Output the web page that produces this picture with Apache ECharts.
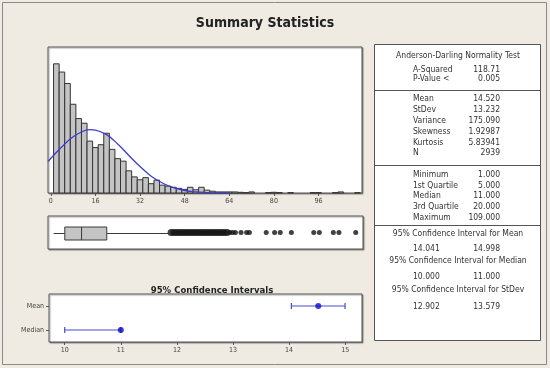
<!DOCTYPE html>
<html>
<head>
<meta charset="utf-8">
<script src="https://cdn.jsdelivr.net/npm/echarts@6/dist/echarts.min.js"></script>
<style>
html,body{margin:0;padding:0;background:#ffffff;}
#c{width:550px;height:368px;}
</style>
</head>
<body>
<div id="c"></div>
<script>
// ---- data ----
const binMids = [2,4,6,8,10,12,14,16,18,20,22,24,26,28,30,32,34,36,38,40,42,44,46,48,50,52,54,56,58,60,62,64,66,68,70,72,78,80,82,86,94,96,102,104,110];
const binCounts = [361,338,306,248,208,195,145,127,135,167,122,96,89,62,45,37,43,26,36,22,19,16,13,10,16,9,16,8,5,3,3,3,3,2,1,3,1,2,1,1,1,1,1,3,1];
const binWidth = 2;
const curveX = [-1,4,8,12,14,16,20,24,28,32,36,40,44,48,52,56,60,64];
const curveY = [88,129,157,174,177,176,163,137,105,74,47,28,15,7,3,1.3,0.5,0.2];
const histTicks = [0,16,32,48,64,80,96];
const boxStats = [1,5,11,20,42]; // whisker low, Q1, median, Q3, whisker high
const outliers = [43,44,45,46,47,48,49,50,51,52,53,54,55,56,57,58,59,60,61,62,63,64,65,66,68,70,71,77,80,82,86,94,96,101,103,109];
const ciCats = ['Median','Mean'];
const ciLow = [10.0, 14.041];
const ciHigh = [11.0, 14.998];
const ciEst = [11.0, 14.520];
const ciTicks = [10,11,12,13,14,15];
const adRows = [['A-Squared','118.71'],['P-Value <','0.005']];
const momentRows = [['Mean','14.520'],['StDev','13.232'],['Variance','175.090'],['Skewness','1.92987'],['Kurtosis','5.83941'],['N','2939']];
const quantRows = [['Minimum','1.000'],['1st Quartile','5.000'],['Median','11.000'],['3rd Quartile','20.000'],['Maximum','109.000']];
const ciRows = [['95% Confidence Interval for Mean','14.041','14.998'],['95% Confidence Interval for Median','10.000','11.000'],['95% Confidence Interval for StDev','12.902','13.579']];

const FONT = "'DejaVu Sans Condensed','DejaVu Sans',sans-serif";
const TXT = '#333333';

// ---- table graphics ----
const g = [];
g.push({type:'rect', shape:{x:2.5,y:2.5,width:544,height:362}, style:{fill:'none', stroke:'#8a8a8a', lineWidth:1}, silent:true});
g.push({type:'rect', shape:{x:374.5,y:44.5,width:166,height:296}, style:{fill:'#ffffff', stroke:'#555555', lineWidth:1}});
[90.5,165.5,225.5].forEach(y=>g.push({type:'line', shape:{x1:374.5,y1:y,x2:540.5,y2:y}, style:{stroke:'#555555', lineWidth:1}}));
function tx(text,x,y,align){
  g.push({type:'text', x:x, y:y, style:{text:text, fill:TXT, font:'8.5px '+FONT, align:align, verticalAlign:'middle'}});
}
tx('Anderson-Darling Normality Test',458,56,'center');
const adY=[69.5,79];
adRows.forEach((r,i)=>{tx(r[0],413,adY[i],'left');tx(r[1],500,adY[i],'right');});
const mY=[99,110,121,131.7,142.4,153.2];
momentRows.forEach((r,i)=>{tx(r[0],413,mY[i],'left');tx(r[1],500,mY[i],'right');});
const qY=[174.6,185.4,196.2,207.2,218.2];
quantRows.forEach((r,i)=>{tx(r[0],413,qY[i],'left');tx(r[1],500,qY[i],'right');});
const cY=[[234,248.5],[260.3,276.5],[290,306.5]];
ciRows.forEach((r,i)=>{tx(r[0],458,cY[i][0],'center');tx(r[1],413,cY[i][1],'left');tx(r[2],500,cY[i][1],'right');});

const chart = echarts.init(document.getElementById('c'), null, {renderer:'canvas'});
const frame = {show:true, backgroundColor:'#ffffff', borderColor:'#555555', borderWidth:1,
  shadowColor:'rgba(0,0,0,0.35)', shadowOffsetX:1, shadowOffsetY:1, shadowBlur:1};

chart.setOption({
  backgroundColor:'#efebe2',
  animation:false,
  title:[
    {text:'Summary Statistics', left:260, top:11, textAlign:'center',
     textStyle:{fontFamily:FONT, fontSize:14, fontWeight:'bold', color:'#222'}},
    {text:'95% Confidence Intervals', left:207, top:281, textAlign:'center',
     textStyle:{fontFamily:FONT, fontSize:9.5, fontWeight:'bold', color:'#222'}}
  ],
  grid:[
    Object.assign({left:48, top:47, width:314, height:146}, frame),
    Object.assign({left:48, top:216, width:315, height:33}, frame),
    Object.assign({left:49, top:294, width:313, height:48}, frame)
  ],
  xAxis:[
    {type:'value', gridIndex:0, min:-1, max:111.6, splitLine:{show:false}, axisLine:{show:false},
     axisTick:{show:true, customValues:histTicks, length:3, lineStyle:{color:'#555'}},
     axisLabel:{customValues:histTicks, fontSize:7, color:'#444', fontFamily:FONT, margin:5}},
    {type:'value', gridIndex:1, min:-1, max:111.6, show:false},
    {type:'value', gridIndex:2, min:9.72, max:15.3, splitLine:{show:false}, axisLine:{show:false},
     axisTick:{show:true, customValues:ciTicks, length:3, lineStyle:{color:'#555'}},
     axisLabel:{customValues:ciTicks, fontSize:7, color:'#444', fontFamily:FONT, margin:5}}
  ],
  yAxis:[
    {type:'value', gridIndex:0, min:0, max:408, show:false},
    {type:'category', gridIndex:1, data:['box'], show:false},
    {type:'category', gridIndex:2, data:ciCats, axisLine:{show:false},
     axisTick:{show:true, alignWithLabel:true, length:3, lineStyle:{color:'#555'}},
     axisLabel:{fontSize:7, color:'#444', fontFamily:FONT, margin:5}}
  ],
  series:[
    {type:'custom', xAxisIndex:0, yAxisIndex:0,
     data: binMids.map((m,i)=>[m-binWidth/2, m+binWidth/2, binCounts[i]]),
     encode:{x:[0,1], y:2},
     renderItem:function(params, api){
       const p0 = api.coord([api.value(0), api.value(2)]);
       const p1 = api.coord([api.value(1), 0]);
       return {type:'rect', shape:{x:p0[0], y:p0[1], width:p1[0]-p0[0], height:p1[1]-p0[1]},
         style:{fill:'#c4c4c4', stroke:'#333333', lineWidth:1}};
     }},
    {type:'line', xAxisIndex:0, yAxisIndex:0, data: curveX.map((x,i)=>[x, curveY[i]]),
     smooth:0.4, showSymbol:false, lineStyle:{color:'#3c3cd0', width:1.3}, z:5},
    {type:'custom', xAxisIndex:1, yAxisIndex:1,
     data:[boxStats.concat([0])], encode:{x:[0,1,2,3,4], y:5},
     renderItem:function(params, api){
       const c = [0,1,2,3,4].map(k=>api.coord([api.value(k), 0]));
       const y = Math.round(c[0][1]) + 0.5, h = 6.5;
       return {type:'group', children:[
         {type:'polyline', shape:{points:[[c[0][0],y],[c[1][0],y]]}, style:{stroke:'#3a3a3a', lineWidth:1, fill:null}},
         {type:'polyline', shape:{points:[[c[3][0],y],[c[4][0],y]]}, style:{stroke:'#3a3a3a', lineWidth:1, fill:null}},
         {type:'rect', shape:{x:c[1][0], y:y-h, width:c[3][0]-c[1][0], height:2*h}, style:{fill:'#c4c4c4', stroke:'#3a3a3a', lineWidth:1}},
         {type:'polyline', shape:{points:[[c[2][0],y-h],[c[2][0],y+h]]}, style:{stroke:'#3a3a3a', lineWidth:1, fill:null}}
       ]};
     }},
    {type:'scatter', xAxisIndex:1, yAxisIndex:1, data: outliers.map(v=>[v,'box']),
     symbol:'circle', symbolSize:function(v){return v[0] <= 63 ? 7 : 5;}, itemStyle:{color:'#111111'}},
    {type:'custom', xAxisIndex:2, yAxisIndex:2,
     data: ciCats.map((c,i)=>[ciLow[i], ciHigh[i], i]), encode:{x:[0,1], y:2},
     renderItem:function(params, api){
       const a = api.coord([api.value(0), api.value(2)]);
       const b = api.coord([api.value(1), api.value(2)]);
       const st = {stroke:'#4a4ad4', lineWidth:1.2};
       return {type:'group', children:[
         {type:'line', shape:{x1:a[0],y1:a[1],x2:b[0],y2:b[1]}, style:st},
         {type:'line', shape:{x1:a[0],y1:a[1]-3,x2:a[0],y2:a[1]+3}, style:st},
         {type:'line', shape:{x1:b[0],y1:b[1]-3,x2:b[0],y2:b[1]+3}, style:st}
       ]};
     }},
    {type:'scatter', xAxisIndex:2, yAxisIndex:2, data: ciCats.map((c,i)=>[ciEst[i], c]),
     symbol:'circle', symbolSize:6, itemStyle:{color:'#0a0ad0'}, z:5}
  ],
  graphic: g
});
</script>
</body>
</html>
